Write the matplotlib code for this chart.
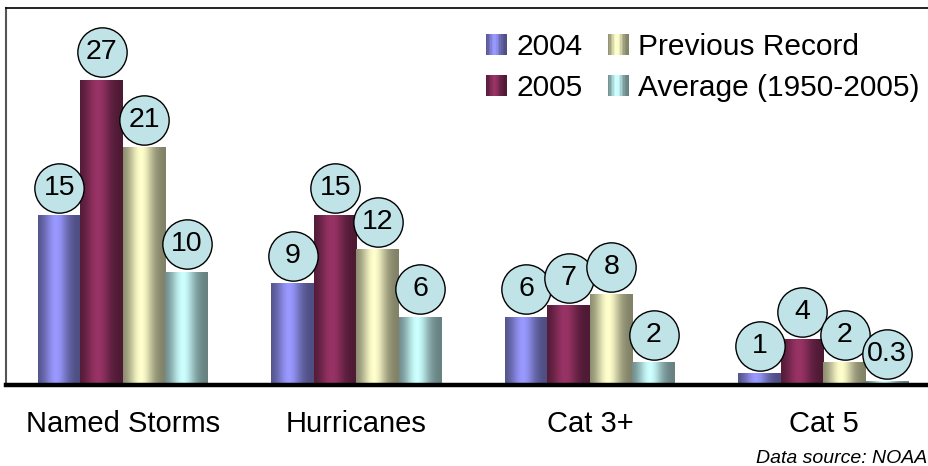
import numpy as np
import matplotlib
matplotlib.use("Agg")
import matplotlib.pyplot as plt
from matplotlib.patches import Rectangle, Patch
from matplotlib.legend_handler import HandlerBase
from matplotlib.transforms import ScaledTranslation

plt.rcParams['font.family'] = ['Liberation Sans', 'DejaVu Sans']

categories = ["Named Storms", "Hurricanes", "Cat 3+", "Cat 5"]
series_names = ["2004", "2005", "Previous Record", "Average (1950-2005)"]
vals_2004 = [15, 9, 6, 1]
vals_2005 = [27, 15, 7, 4]
vals_prev = [21, 12, 8, 2]
vals_avg = [10, 6, 2, 0.3]
labels_2004 = ["15", "9", "6", "1"]
labels_2005 = ["27", "15", "7", "4"]
labels_prev = ["21", "12", "8", "2"]
labels_avg = ["10", "6", "2", "0.3"]

series = [vals_2004, vals_2005, vals_prev, vals_avg]
labels = [labels_2004, labels_2005, labels_prev, labels_avg]
colors = ["#9999ff", "#993366", "#ffffcc", "#ccffff"]


def shade(color, t):
    # cylinder-like shading: dark at the edges, bright a bit left of centre
    rgb = np.array(matplotlib.colors.to_rgb(color))
    f = 0.5 + 0.5 * np.exp(-((t - 0.42) / 0.28) ** 2)
    return np.clip(rgb * f, 0, 1)


def gradient(color, n=64):
    t = (np.arange(n) + 0.5) / n
    return np.array([shade(color, v) for v in t])


class GradHandler(HandlerBase):
    def __init__(self, color):
        super().__init__()
        self.color = color

    def create_artists(self, legend, orig_handle, xdescent, ydescent,
                       width, height, fontsize, trans):
        n = 14
        arts = []
        for i in range(n):
            t = (i + 0.5) / n
            r = Rectangle((-xdescent + i * width / n, -ydescent),
                          width / n * 1.05, height,
                          facecolor=shade(self.color, t), edgecolor="none",
                          transform=trans)
            arts.append(r)
        return arts


fig = plt.figure(figsize=(9.29, 4.66), dpi=100)
ax = fig.add_axes([6 / 929, 1 - 385 / 466, 1 - 6 / 929, (385 - 8) / 466])

x = np.arange(len(categories))
w = 0.182
circle_off = ScaledTranslation(0, 20 / 72, fig.dpi_scale_trans)

for i, (vals, col) in enumerate(zip(series, colors)):
    bars = ax.bar(x + (i - 1.5) * w, vals, w, color=col, zorder=1)
    for b in bars:
        x0 = b.get_x()
        h = b.get_height()
        ax.imshow(gradient(col)[np.newaxis, :, :],
                  extent=[x0, x0 + b.get_width(), 0, h],
                  aspect="auto", interpolation="bilinear", zorder=2)

# value circles above the bars
for i, (vals, labs) in enumerate(zip(series, labels)):
    for j, (v, lab) in enumerate(zip(vals, labs)):
        xc = x[j] + (i - 1.5) * w
        ax.plot([xc], [v], marker="o", ms=35.5, mfc="#bfe3e6", mec="black",
                mew=1.0, transform=ax.transData + circle_off, clip_on=False,
                zorder=4 + j * 4 + i)
        ax.annotate(lab, (xc, v), xytext=(0, 20), textcoords="offset points",
                    ha="center", va="center", fontsize=20.5, zorder=4 + j * 4 + i,
                    annotation_clip=False)

ax.set_xlim(-0.501, 3.452)
ax.set_ylim(0, 33.4)
ax.set_yticks([])
ax.set_xticks(x, categories, fontsize=21)
ax.tick_params(axis="x", length=0, pad=18)

ax.spines["right"].set_visible(False)
ax.spines["left"].set_color("#555555")
ax.spines["left"].set_linewidth(1.5)
ax.spines["top"].set_linewidth(1.2)
ax.spines["bottom"].set_linewidth(3.2)
ax.spines["bottom"].set_color("black")

handles = [Patch(label=n) for n in series_names]
hmap = {h: GradHandler(c) for h, c in zip(handles, colors)}
ax.legend(handles=handles, handler_map=hmap, ncol=2, frameon=False,
          fontsize=21.5, loc="upper right", bbox_to_anchor=(0.99, 0.93),
          bbox_transform=fig.transFigure, handlelength=0.72,
          handleheight=0.72, handletextpad=0.3, columnspacing=0.85,
          labelspacing=0.45, borderaxespad=0, borderpad=0)

fig.text(0.998, 0.017, "Data source: NOAA", ha="right", va="center",
         style="italic", fontsize=14)

plt.savefig("out.png", dpi=100)
